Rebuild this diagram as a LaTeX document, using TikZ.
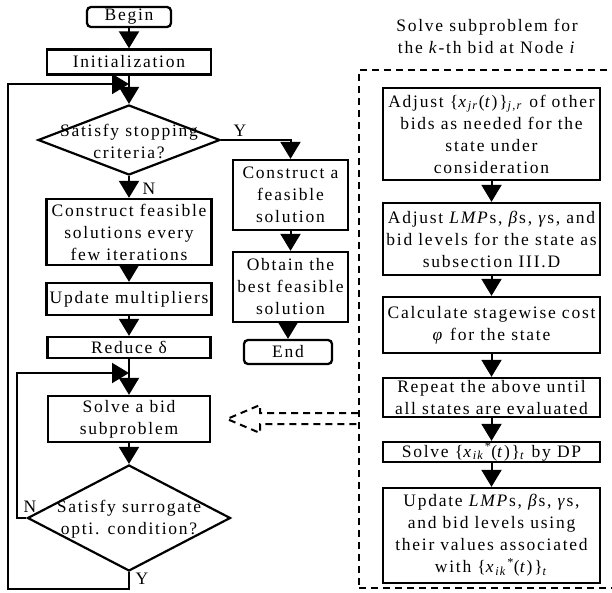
\documentclass[tikz,border=0pt]{standalone}
\usepackage{fontspec}
\setmainfont{Liberation Serif}[LetterSpace=10]
\usetikzlibrary{arrows.meta,shapes.geometric}
\newcommand{\fs}{\fontsize{17.5}{22}\selectfont}
\begin{document}
\begin{tikzpicture}[x=1pt,y=-1pt,
  box/.style={draw,line width=2.3pt,inner sep=0pt,align=center,font=\fs},
  rbox/.style={box,rounded corners=4pt},
  dia/.style={draw,diamond,line width=2.2pt,inner sep=0pt},
  lab/.style={inner sep=0pt,align=center,font=\fs},
  arr/.style={line width=2pt,-{Triangle[width=20pt,length=17pt]}},
  dsh/.style={line width=2pt,dash pattern=on 7pt off 5pt}]
\useasboundingbox (0,0) rectangle (612,593);
% left column
\node[rbox,minimum width=84pt,minimum height=20pt] (begin) at (129,17) {Begin};
\node[box,minimum width=164pt,minimum height=25pt] (init) at (129,62) {Initialization};
\node[dia,minimum width=182pt,minimum height=70pt] (d1) at (129,140) {};
\node[lab] at (129,141) {Satisfy stopping\\criteria?};
\node[box,minimum width=165pt,minimum height=66pt] (cons) at (129,232) {Construct feasible\\solutions every\\few iterations};
\node[box,minimum width=165pt,minimum height=32pt] (upd) at (129,299) {Update multipliers};
\node[box,minimum width=163pt,minimum height=21pt] (red) at (129,347.5) {Reduce δ};
\node[box,minimum width=162pt,minimum height=46pt] (solve) at (129,419) {Solve a bid\\subproblem};
\node[dia,minimum width=203pt,minimum height=106pt] (d2) at (129,518) {};
\node[lab] at (129,519) {Satisfy surrogate\\opti. condition?};
% middle column
\node[box,minimum width=115pt,minimum height=70pt] (cfs) at (290.5,195) {Construct a\\feasible\\solution};
\node[box,minimum width=115pt,minimum height=70pt] (obt) at (290.5,287) {Obtain the\\best feasible\\solution};
\node[rbox,minimum width=88pt,minimum height=24pt] (end) at (288,352) {End};
% labels
\node[lab] (y1) at (240,131) {Y};
\node[lab] (n1) at (149,189) {N};
\node[lab] (n2) at (30,507) {N};
\node[lab] (y2) at (142,579) {Y};
% right part
\node[lab] (title) at (487,36) {Solve subproblem for\\the \textit{k}-th bid at Node \textit{i}};
\node[draw,dsh,minimum width=255pt,minimum height=518pt,inner sep=0pt] (sub) at (486.5,329) {};
\node[box,minimum width=217pt,minimum height=92pt] (b1) at (491.5,134) {Adjust \{\textit{x}\textsubscript{\textit{jr}}(\textit{t})\}\textsubscript{\textit{j,r}} of other\\bids as needed for the\\state under\\consideration};
\node[box,minimum width=217pt,minimum height=72pt] (b2) at (491.5,239) {Adjust \textit{LMP}s, \textit{β}s, \textit{γ}s, and\\bid levels for the state as\\subsection III.D};
\node[box,minimum width=217pt,minimum height=56pt] (b3) at (491.5,325) {Calculate stagewise cost\\\textit{φ} for the state};
\node[box,minimum width=217pt,minimum height=39pt] (b4) at (491.5,397.5) {Repeat the above until\\all states are evaluated};
\node[box,minimum width=217pt,minimum height=20pt] (b5) at (491.5,452) {Solve \{\textit{x}\textsubscript{\textit{ik}}\textsuperscript{*}(\textit{t})\}\textsubscript{\textit{t}} by DP};
\node[box,minimum width=217pt,minimum height=95pt] (b6) at (491.5,535.5) {Update \textit{LMP}s, \textit{β}s, \textit{γ}s,\\and bid levels using\\their values associated\\with \{\textit{x}\textsubscript{\textit{ik}}\textsuperscript{*}(\textit{t})\}\textsubscript{\textit{t}}};
% connectors
\coordinate (j1) at (129,84);
\coordinate (j2) at (129,373);
\draw[arr] (begin) -- (init);
\draw[arr] (init) -- (d1);
\draw[arr] (d1) -- (cons);
\draw[arr] (cons) -- (upd);
\draw[arr] (upd) -- (red);
\draw[arr] (red) -- (solve);
\draw[arr] (solve) -- (d2);
\draw[arr] (d1.east) -| (cfs.north);
\draw[arr] (cfs) -- (obt);
\draw[arr] (obt.south -| end.north) -- (end.north);
\draw[arr] (d2.south) -- ++(0,17) -| (8,84) -- (j1);
\draw[arr] (d2.west) -- (17,518) -- (17,373) -- (j2);
\draw[arr] (b1) -- (b2);
\draw[arr] (b2) -- (b3);
\draw[arr] (b3) -- (b4);
\draw[arr] (b4) -- (b5);
\draw[arr] (b5) -- (b6);
% hollow dashed arrow
\coordinate (h1) at (0,413);
\coordinate (h2) at (0,424);
\draw[dsh] (sub.west |- h1) -- (260,413) -- (260,405) -- (227,419) -- (260,433) -- (260,424) -- (sub.west |- h2);
\end{tikzpicture}
\end{document}
